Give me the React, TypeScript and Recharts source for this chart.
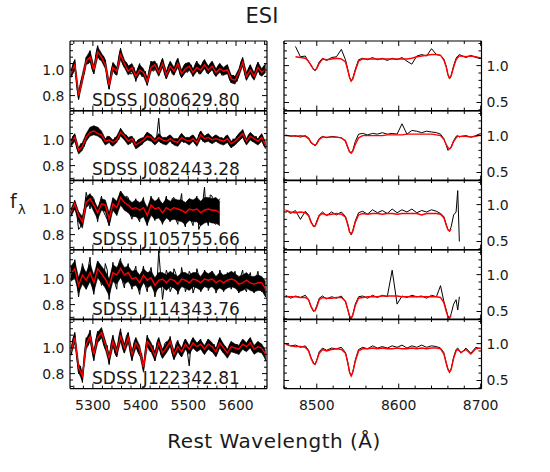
import React from 'react';
import { ComposedChart, Line, Area, XAxis, YAxis } from 'recharts';

// ---------- data ----------
// left column: observed spectra sampled every 4 A, model and scatter envelope every 8 A
const LEFT_WAVE_OBS = [
  5254, 5258, 5262, 5266, 5270, 5274, 5278, 5282, 5286, 5290,
  5294, 5298, 5302, 5306, 5310, 5314, 5318, 5322, 5326, 5330,
  5334, 5338, 5342, 5346, 5350, 5354, 5358, 5362, 5366, 5370,
  5374, 5378, 5382, 5386, 5390, 5394, 5398, 5402, 5406, 5410,
  5414, 5418, 5422, 5426, 5430, 5434, 5438, 5442, 5446, 5450,
  5454, 5458, 5462, 5466, 5470, 5474, 5478, 5482, 5486, 5490,
  5494, 5498, 5502, 5506, 5510, 5514, 5518, 5522, 5526, 5530,
  5534, 5538, 5542, 5546, 5550, 5554, 5558, 5562, 5566, 5570,
  5574, 5578, 5582, 5586, 5590, 5594, 5598, 5602, 5606, 5610,
  5614, 5618, 5622, 5626, 5630, 5634, 5638, 5642, 5646, 5650,
  5654, 5658, 5662,
];
const LEFT_WAVE_MOD = [
  5254, 5262, 5270, 5278, 5286, 5294, 5302, 5310, 5318, 5326,
  5334, 5342, 5350, 5358, 5366, 5374, 5382, 5390, 5398, 5406,
  5414, 5422, 5430, 5438, 5446, 5454, 5462, 5470, 5478, 5486,
  5494, 5502, 5510, 5518, 5526, 5534, 5542, 5550, 5558, 5566,
  5574, 5582, 5590, 5598, 5606, 5614, 5622, 5630, 5638, 5646,
  5654, 5662,
];

const RIGHT_WAVE = [
  8462, 8468, 8474, 8480, 8486, 8490, 8493, 8496, 8498, 8500,
  8503, 8507, 8512, 8518, 8524, 8530, 8535, 8538, 8540, 8542,
  8544, 8547, 8551, 8556, 8562, 8568, 8574, 8580, 8586, 8592,
  8598, 8604, 8610, 8616, 8622, 8628, 8634, 8640, 8646, 8651,
  8655, 8658, 8660, 8662, 8664, 8667, 8670, 8672, 8674, 8676,
  8682, 8688, 8694, 8700,
];

const NAMES = ['SDSS J080629.80', 'SDSS J082443.28', 'SDSS J105755.66', 'SDSS J114343.76', 'SDSS J122342.81'];

const L1_OBS = [
  0.95, 1.04, 1.08, 0.87, 0.77, 0.90, 0.95, 0.97, 1.10, 1.05,
  1.15, 1.01, 0.97, 1.12, 1.19, 1.08, 1.08, 1.11, 1.07, 0.92,
  0.85, 0.99, 1.05, 0.97, 0.96, 1.10, 1.17, 1.05, 1.02, 1.06,
  1.03, 0.97, 0.97, 1.02, 0.91, 1.01, 1.05, 0.95, 0.95, 0.99,
  0.88, 1.00, 1.07, 0.99, 1.00, 1.05, 0.96, 1.05, 1.09, 0.97,
  0.93, 1.03, 1.06, 0.97, 0.96, 1.06, 1.09, 0.97, 0.94, 1.03,
  1.05, 0.98, 1.00, 1.04, 0.95, 1.04, 1.07, 0.97, 0.97, 1.06,
  1.08, 0.98, 0.97, 1.05, 1.06, 0.97, 0.95, 1.03, 1.05, 0.96,
  0.96, 1.03, 1.04, 0.93, 0.90, 0.96, 0.94, 0.91, 0.96, 1.06,
  1.09, 0.97, 0.92, 1.01, 1.04, 0.94, 0.93, 1.02, 1.06, 0.96,
  0.96, 1.03, 1.04,
];
const L1_HI = [
  1.00, 1.08, 0.83, 0.97, 1.10, 1.15, 1.03, 1.18, 1.13, 1.08,
  0.91, 1.06, 1.02, 1.16, 1.08, 1.03, 1.05, 0.98, 1.04, 1.01,
  0.94, 1.06, 1.07, 1.01, 1.09, 0.99, 1.07, 1.02, 1.09, 1.00,
  1.05, 1.06, 1.01, 1.06, 1.03, 1.08, 1.03, 1.07, 1.01, 1.05,
  1.02, 1.04, 0.96, 0.95, 1.01, 1.10, 0.98, 1.04, 0.98, 1.06,
  1.01, 1.05,
];
const L1_LO = [
  0.94, 1.00, 0.77, 0.90, 1.04, 1.06, 0.97, 1.10, 1.07, 1.01,
  0.85, 0.99, 0.96, 1.08, 1.02, 0.96, 0.99, 0.92, 0.97, 0.95,
  0.88, 0.99, 1.01, 0.95, 1.02, 0.93, 1.00, 0.96, 1.02, 0.94,
  0.98, 1.00, 0.95, 0.99, 0.97, 1.01, 0.97, 1.00, 0.95, 0.98,
  0.96, 0.97, 0.90, 0.89, 0.95, 1.03, 0.92, 0.97, 0.92, 0.99,
  0.95, 0.98,
];
const L1_MOD = [
  0.97, 1.04, 0.80, 0.93, 1.07, 1.10, 1.00, 1.14, 1.10, 1.04,
  0.88, 1.02, 0.99, 1.12, 1.05, 0.99, 1.02, 0.95, 1.00, 0.98,
  0.91, 1.02, 1.04, 0.98, 1.05, 0.96, 1.03, 0.99, 1.05, 0.97,
  1.01, 1.03, 0.98, 1.02, 1.00, 1.04, 1.00, 1.03, 0.98, 1.01,
  0.99, 1.00, 0.93, 0.92, 0.98, 1.06, 0.95, 1.00, 0.95, 1.02,
  0.98, 1.01,
];
const L2_OBS = [
  0.96, 1.03, 1.04, 0.94, 0.90, 0.97, 0.97, 0.95, 1.04, 1.05,
  1.09, 1.07, 1.11, 1.08, 1.10, 1.06, 1.05, 0.99, 0.97, 1.03,
  1.02, 0.96, 0.96, 1.02, 1.02, 1.00, 1.09, 1.02, 1.01, 1.04,
  1.01, 0.97, 0.99, 1.01, 0.95, 1.00, 1.00, 0.96, 0.98, 1.04,
  1.06, 1.00, 1.04, 0.98, 0.97, 1.03, 1.17, 0.98, 1.00, 1.02,
  0.97, 1.03, 1.03, 0.97, 0.98, 1.01, 0.97, 1.03, 1.05, 0.98,
  0.99, 1.02, 0.98, 1.03, 1.03, 0.97, 0.97, 1.04, 1.07, 0.99,
  1.00, 1.04, 1.04, 0.98, 0.98, 1.03, 1.03, 0.98, 0.99, 1.02,
  0.98, 1.03, 1.03, 0.96, 0.94, 1.01, 0.98, 1.03, 1.04, 1.01,
  1.08, 0.99, 0.97, 1.04, 1.05, 0.99, 0.99, 1.03, 0.97, 1.03,
  1.04, 0.96, 0.94,
];
const L2_HI = [
  1.00, 1.05, 0.94, 0.98, 1.05, 1.10, 1.11, 1.10, 1.07, 1.01,
  1.03, 1.00, 1.03, 1.09, 1.05, 1.02, 1.03, 0.98, 1.01, 1.02,
  1.06, 1.04, 1.01, 1.05, 1.02, 1.02, 1.04, 1.01, 1.01, 1.05,
  1.02, 1.02, 1.04, 1.00, 1.07, 1.03, 1.05, 1.02, 1.04, 1.02,
  1.01, 1.04, 0.99, 1.01, 1.05, 1.08, 1.01, 1.06, 1.03, 1.01,
  1.05, 0.98,
];
const L2_LO = [
  0.95, 0.99, 0.89, 0.92, 0.99, 1.03, 1.04, 1.03, 1.01, 0.96,
  0.98, 0.95, 0.98, 1.03, 1.00, 0.96, 0.99, 0.93, 0.95, 0.98,
  1.00, 0.99, 0.96, 0.99, 0.97, 0.96, 0.99, 0.96, 0.95, 0.99,
  0.98, 0.96, 0.99, 0.95, 1.01, 0.98, 0.99, 0.97, 0.99, 0.97,
  0.96, 0.98, 0.94, 0.96, 0.99, 1.02, 0.96, 1.00, 0.98, 0.96,
  0.99, 0.93,
];
const L2_MOD = [
  0.98, 1.02, 0.92, 0.95, 1.02, 1.06, 1.07, 1.05, 1.04, 0.99,
  1.00, 0.98, 1.00, 1.06, 1.03, 0.99, 1.01, 0.96, 0.98, 1.00,
  1.03, 1.02, 0.99, 1.02, 1.00, 0.99, 1.01, 0.99, 0.98, 1.02,
  1.00, 0.99, 1.01, 0.98, 1.04, 1.01, 1.02, 1.00, 1.01, 1.00,
  0.99, 1.01, 0.97, 0.99, 1.02, 1.05, 0.99, 1.03, 1.01, 0.99,
  1.02, 0.96,
];
const L3_OBS = [
  0.97, 1.02, 1.05, 0.97, 0.84, 0.86, 0.93, 1.00, 1.13, 1.06,
  1.00, 1.10, 1.08, 0.99, 0.90, 1.04, 1.10, 0.98, 0.95, 0.92,
  0.87, 0.96, 1.08, 1.00, 0.95, 1.07, 1.14, 1.03, 1.00, 1.10,
  1.09, 0.96, 0.92, 1.04, 1.08, 0.93, 0.90, 1.05, 1.09, 0.92,
  0.87, 1.01, 1.10, 0.95, 0.91, 1.06, 1.09, 0.94, 0.88, 1.04,
  1.10, 0.93, 0.90, 1.08, 1.09, 0.92, 0.88, 1.03, 1.12, 0.90,
  0.86, 1.06, 1.08, 0.91, 0.87, 1.05, 1.10, 0.84, 0.88, 1.04,
  1.17, 0.93, 0.87, 1.11, 1.10, 0.89, 0.88, 1.06, 1.08,
];
const L3_HI = [
  1.00, 1.07, 0.98, 0.94, 1.09, 1.12, 1.07, 1.01, 1.08, 1.07,
  0.97, 1.09, 1.06, 1.14, 1.10, 1.08, 1.05, 1.07, 1.05, 1.07,
  1.01, 1.09, 1.06, 1.08, 1.04, 1.08, 1.06, 1.08, 1.07, 1.07,
  1.05, 1.08, 1.07, 1.09, 1.06, 1.09, 1.09, 1.08, 1.09, 1.06,
];
const L3_LO = [
  0.94, 1.00, 0.90, 0.85, 1.01, 1.04, 0.98, 0.92, 0.99, 0.98,
  0.87, 0.99, 0.95, 1.03, 0.99, 0.97, 0.94, 0.94, 0.92, 0.94,
  0.88, 0.95, 0.92, 0.93, 0.89, 0.93, 0.91, 0.92, 0.91, 0.90,
  0.88, 0.91, 0.90, 0.90, 0.87, 0.89, 0.90, 0.89, 0.89, 0.87,
];
const L3_MOD = [
  0.97, 1.04, 0.95, 0.90, 1.05, 1.08, 1.03, 0.97, 1.04, 1.03,
  0.92, 1.04, 1.01, 1.09, 1.05, 1.03, 1.00, 1.01, 0.99, 1.01,
  0.95, 1.03, 1.00, 1.01, 0.97, 1.01, 0.99, 1.01, 1.00, 0.99,
  0.97, 1.00, 0.99, 1.00, 0.97, 0.99, 1.00, 0.99, 0.99, 0.97,
];
const L4_OBS = [
  1.10, 1.02, 1.15, 1.00, 0.86, 0.98, 1.12, 1.06, 0.92, 1.08,
  1.17, 0.96, 0.88, 1.04, 1.14, 1.02, 0.95, 0.98, 1.12, 1.07,
  0.84, 0.99, 1.13, 0.97, 0.92, 1.12, 1.16, 0.98, 0.93, 1.06,
  1.12, 0.97, 0.92, 1.05, 1.10, 0.94, 0.88, 1.02, 1.10, 0.95,
  0.90, 1.04, 1.09, 0.98, 0.86, 0.93, 1.22, 1.03, 0.84, 0.96,
  1.07, 1.02, 0.90, 0.94, 1.08, 1.04, 0.88, 0.93, 1.09, 1.01,
  0.90, 0.95, 1.06, 1.03, 0.89, 0.94, 1.08, 1.02, 0.90, 0.93,
  1.07, 1.03, 0.91, 0.95, 1.06, 1.01, 0.89, 0.93, 1.07, 1.03,
  0.90, 0.95, 1.05, 0.99, 0.92, 1.03, 1.06, 0.94, 0.89, 1.02,
  1.07, 0.93, 0.90, 1.01, 1.05, 0.94, 0.89, 1.00, 1.06, 0.93,
  0.90, 0.98, 0.86,
];
const L4_HI = [
  1.10, 1.14, 1.01, 1.10, 1.05, 1.12, 1.03, 1.14, 1.10, 1.06,
  1.00, 1.11, 1.09, 1.14, 1.09, 1.10, 1.06, 1.07, 1.03, 1.08,
  1.05, 1.06, 1.01, 1.05, 1.05, 1.03, 1.06, 1.04, 1.02, 1.05,
  1.05, 1.03, 1.05, 1.05, 1.02, 1.06, 1.04, 1.06, 1.02, 1.05,
  1.03, 1.04, 1.06, 1.04, 1.02, 1.03, 1.05, 1.02, 1.02, 1.03,
  1.02, 0.98,
];
const L4_LO = [
  0.98, 1.01, 0.89, 0.96, 0.92, 0.98, 0.90, 1.01, 0.97, 0.93,
  0.87, 0.98, 0.96, 1.01, 0.96, 0.98, 0.94, 0.95, 0.91, 0.97,
  0.93, 0.95, 0.89, 0.93, 0.94, 0.91, 0.94, 0.93, 0.90, 0.94,
  0.93, 0.91, 0.94, 0.93, 0.91, 0.94, 0.93, 0.94, 0.91, 0.93,
  0.91, 0.93, 0.94, 0.93, 0.90, 0.91, 0.93, 0.91, 0.90, 0.91,
  0.91, 0.86,
];
const L4_MOD = [
  1.04, 1.08, 0.95, 1.03, 0.99, 1.05, 0.97, 1.08, 1.04, 1.00,
  0.94, 1.05, 1.03, 1.08, 1.03, 1.05, 1.00, 1.01, 0.97, 1.03,
  0.99, 1.01, 0.95, 0.99, 1.00, 0.97, 1.00, 0.99, 0.96, 1.00,
  0.99, 0.97, 1.00, 0.99, 0.97, 1.00, 0.99, 1.00, 0.97, 0.99,
  0.97, 0.99, 1.00, 0.99, 0.96, 0.97, 0.99, 0.97, 0.96, 0.97,
  0.97, 0.92,
];
const L5_OBS = [
  0.95, 1.07, 1.12, 0.93, 0.80, 0.86, 0.73, 0.95, 1.08, 1.02,
  1.14, 0.98, 0.90, 1.06, 1.13, 1.06, 1.15, 1.03, 0.99, 1.02,
  0.87, 1.03, 1.10, 0.96, 0.93, 1.08, 1.15, 1.00, 0.96, 1.09,
  1.12, 0.97, 0.90, 1.04, 1.08, 0.97, 0.94, 0.96, 0.82, 0.99,
  1.10, 0.98, 0.97, 1.02, 0.90, 1.04, 1.08, 0.95, 0.92, 1.03,
  1.05, 0.99, 1.09, 0.96, 0.91, 1.03, 1.06, 0.95, 0.93, 1.04,
  1.07, 0.97, 0.86, 1.05, 1.08, 0.99, 0.98, 1.05, 1.07, 0.97,
  0.95, 1.04, 1.07, 0.98, 0.97, 1.03, 0.94, 1.03, 1.08, 0.98,
  0.96, 1.01, 0.93, 1.02, 1.05, 0.97, 0.97, 1.03, 0.95, 1.04,
  1.06, 0.98, 0.98, 1.06, 1.08, 0.98, 0.96, 1.03, 1.05, 0.97,
  0.97, 1.00, 0.90,
];
const L5_HI = [
  1.00, 1.12, 0.88, 0.81, 1.07, 1.13, 0.98, 1.12, 1.16, 1.06,
  0.95, 1.09, 1.00, 1.13, 1.03, 1.12, 0.98, 1.08, 1.02, 0.88,
  1.09, 1.04, 0.97, 1.08, 0.99, 1.04, 1.08, 0.98, 1.05, 1.00,
  1.07, 1.02, 1.08, 1.04, 1.06, 1.02, 1.07, 1.04, 1.00, 1.08,
  1.03, 0.99, 1.05, 1.03, 1.02, 1.07, 1.04, 1.08, 1.02, 1.05,
  1.03, 0.98,
];
const L5_LO = [
  0.94, 1.04, 0.81, 0.74, 0.99, 1.05, 0.91, 1.04, 1.08, 0.99,
  0.88, 1.01, 0.93, 1.05, 0.96, 1.04, 0.91, 1.00, 0.95, 0.81,
  1.01, 0.97, 0.90, 1.00, 0.92, 0.96, 1.01, 0.91, 0.97, 0.93,
  0.99, 0.95, 1.00, 0.97, 0.99, 0.95, 0.99, 0.97, 0.93, 1.00,
  0.96, 0.92, 0.97, 0.96, 0.95, 0.99, 0.97, 1.00, 0.95, 0.97,
  0.96, 0.91,
];
const L5_MOD = [
  0.97, 1.08, 0.85, 0.78, 1.03, 1.09, 0.95, 1.08, 1.12, 1.03,
  0.92, 1.05, 0.97, 1.09, 1.00, 1.08, 0.95, 1.04, 0.99, 0.85,
  1.05, 1.01, 0.94, 1.04, 0.96, 1.00, 1.05, 0.95, 1.01, 0.97,
  1.03, 0.99, 1.04, 1.01, 1.03, 0.99, 1.03, 1.01, 0.97, 1.04,
  1.00, 0.96, 1.01, 1.00, 0.99, 1.03, 1.01, 1.04, 0.99, 1.01,
  1.00, 0.95,
];

// right column (Ca triplet region)
const R1_OBS = [
  null, null, 1.26, 1.12, 1.13, 1.05, 1.01, 0.95, 0.93, 0.97,
  1.05, 1.10, 1.07, 1.11, 1.12, 1.22, 1.08, 0.94, 0.84, 0.79,
  0.83, 0.95, 1.08, 1.10, 1.08, 1.11, 1.08, 1.10, 1.07, 1.10,
  1.08, 1.11, 1.06, 1.02, 1.13, 1.15, 1.13, 1.23, 1.15, 1.14,
  1.09, 0.99, 0.88, 0.82, 0.87, 1.00, 1.10, 1.13, 1.15, 1.14,
  1.11, 1.14, 1.11, 1.10,
];
const R1_MOD = [
  null, null, 1.12, 1.11, 1.10, 1.06, 1.00, 0.95, 0.94, 0.96,
  1.03, 1.09, 1.08, 1.09, 1.10, 1.09, 1.05, 0.93, 0.84, 0.79,
  0.82, 0.93, 1.06, 1.09, 1.09, 1.09, 1.09, 1.09, 1.09, 1.09,
  1.09, 1.09, 1.09, 1.10, 1.12, 1.13, 1.14, 1.15, 1.15, 1.14,
  1.08, 0.98, 0.88, 0.83, 0.86, 0.98, 1.08, 1.11, 1.13, 1.13,
  1.12, 1.13, 1.12, 1.10,
];
const R2_OBS = [
  1.01, 0.99, 1.00, 0.98, 1.00, 0.97, 0.90, 0.88, 0.86, 0.90,
  0.96, 0.99, 0.97, 0.99, 0.98, 0.97, 0.92, 0.83, 0.78, 0.77,
  0.80, 0.92, 1.02, 1.03, 1.01, 1.03, 1.02, 1.04, 1.02, 1.03,
  1.02, 1.16, 1.02, 1.07, 1.06, 1.04, 1.06, 1.05, 1.04, 1.02,
  0.96, 0.87, 0.80, 0.82, 0.85, 0.93, 0.99, 1.00, 0.98, 0.99,
  1.00, 0.98, 1.00, 1.03,
];
const R2_MOD = [
  1.00, 1.00, 0.99, 1.00, 0.99, 0.96, 0.91, 0.88, 0.87, 0.89,
  0.95, 0.98, 0.98, 0.98, 0.98, 0.97, 0.93, 0.84, 0.78, 0.76,
  0.79, 0.88, 0.97, 1.00, 1.00, 1.00, 1.00, 1.00, 1.01, 1.01,
  1.01, 1.01, 1.02, 1.02, 1.02, 1.02, 1.02, 1.02, 1.01, 1.00,
  0.95, 0.88, 0.84, 0.82, 0.84, 0.92, 0.97, 0.99, 0.99, 0.99,
  0.99, 0.98, 0.99, 1.01,
];
const R3_OBS = [
  0.93, 0.88, 0.92, 0.80, 0.91, 0.86, 0.77, 0.70, 0.71, 0.78,
  0.86, 0.90, 0.85, 0.90, 0.86, 0.90, 0.84, 0.73, 0.63, 0.59,
  0.65, 0.78, 0.89, 0.91, 0.87, 0.93, 0.89, 0.92, 0.88, 0.94,
  0.89, 0.93, 0.90, 0.94, 0.89, 0.92, 0.90, 0.93, 0.91, 0.88,
  0.84, 0.73, 0.66, 0.64, 0.70, 0.86, 0.90, 1.19, 0.50,
];
const R3_MOD = [
  0.92, 0.90, 0.89, 0.90, 0.89, 0.85, 0.76, 0.71, 0.71, 0.76,
  0.85, 0.88, 0.86, 0.87, 0.88, 0.87, 0.83, 0.72, 0.63, 0.60,
  0.64, 0.76, 0.86, 0.88, 0.87, 0.88, 0.88, 0.87, 0.88, 0.88,
  0.87, 0.88, 0.88, 0.88, 0.88, 0.86, 0.88, 0.88, 0.88, 0.87,
  0.82, 0.72, 0.66, 0.64, 0.67,
];
const R4_OBS = [
  0.72, 0.68, 0.71, 0.69, 0.72, 0.66, 0.56, 0.50, 0.52, 0.58,
  0.68, 0.71, 0.67, 0.70, 0.68, 0.71, 0.63, 0.52, 0.43, 0.40,
  0.46, 0.60, 0.70, 0.71, 0.68, 0.72, 0.69, 0.72, 0.70, 1.06,
  0.60, 0.71, 0.69, 0.72, 0.70, 0.71, 0.68, 0.72, 0.70, 0.85,
  0.64, 0.52, 0.44, 0.41, 0.47, 0.60, 0.66, 0.52, 0.70,
];
const R4_MOD = [
  0.70, 0.70, 0.70, 0.69, 0.69, 0.66, 0.57, 0.51, 0.51, 0.56,
  0.66, 0.69, 0.68, 0.68, 0.69, 0.69, 0.64, 0.52, 0.44, 0.41,
  0.45, 0.58, 0.68, 0.69, 0.70, 0.70, 0.70, 0.71, 0.71, 0.71,
  0.71, 0.70, 0.70, 0.70, 0.70, 0.70, 0.70, 0.70, 0.70, 0.69,
  0.62, 0.50, 0.43, 0.41, 0.45,
];
const R5_OBS = [
  1.00, 0.97, 0.98, 0.95, 0.97, 0.91, 0.81, 0.74, 0.72, 0.78,
  0.89, 0.94, 0.91, 0.94, 0.93, 0.95, 0.88, 0.74, 0.61, 0.56,
  0.62, 0.78, 0.92, 0.95, 0.93, 0.97, 0.94, 0.96, 0.94, 0.97,
  0.95, 0.98, 0.94, 0.97, 0.95, 0.98, 0.95, 0.97, 0.96, 0.94,
  0.88, 0.74, 0.66, 0.62, 0.66, 0.82, 0.92, 0.94, 0.91, 0.87,
  0.94, 0.87, 0.95, 0.93,
];
const R5_MOD = [
  0.99, 0.97, 0.96, 0.96, 0.95, 0.90, 0.80, 0.73, 0.72, 0.77,
  0.87, 0.92, 0.90, 0.92, 0.93, 0.92, 0.87, 0.73, 0.61, 0.56,
  0.61, 0.76, 0.90, 0.93, 0.93, 0.94, 0.93, 0.94, 0.93, 0.93,
  0.94, 0.93, 0.93, 0.94, 0.93, 0.94, 0.93, 0.94, 0.94, 0.93,
  0.86, 0.73, 0.65, 0.61, 0.65, 0.80, 0.90, 0.92, 0.90, 0.88,
  0.92, 0.86, 0.93, 0.94,
];

// ticks
const LEFT_X_TICKS = [5260, 5280, 5300, 5320, 5340, 5360, 5380, 5400, 5420, 5440, 5460, 5480, 5500, 5520, 5540, 5560, 5580, 5600, 5620, 5640, 5660];
const LEFT_X_MAJOR = [5300, 5400, 5500, 5600];
const RIGHT_X_TICKS = [8460, 8480, 8500, 8520, 8540, 8560, 8580, 8600, 8620, 8640, 8660, 8680, 8700];
const RIGHT_X_MAJOR = [8500, 8600, 8700];
const LEFT_Y_TICKS = [0.7, 0.75, 0.8, 0.85, 0.9, 0.95, 1.0, 1.05, 1.1, 1.15, 1.2];
const LEFT_Y_MAJOR = [0.8, 1.0];
const RIGHT_Y_TICKS = [0.4, 0.5, 0.6, 0.7, 0.8, 0.9, 1.0, 1.1, 1.2, 1.3];
const RIGHT_Y_MAJOR = [0.5, 1.0];

const LEFT_X_DOMAIN: [number, number] = [5252, 5665];
const RIGHT_X_DOMAIN: [number, number] = [8460, 8701];
const LEFT_Y_DOMAIN: [number, number] = [0.683, 1.226];
const RIGHT_Y_DOMAIN: [number, number] = [0.39, 1.334];

type Arr = (number | null)[];
interface LeftSet { obs: Arr; hi: Arr; lo: Arr; mod: Arr }
const LEFT_SETS: LeftSet[] = [
  { obs: L1_OBS, hi: L1_HI, lo: L1_LO, mod: L1_MOD },
  { obs: L2_OBS, hi: L2_HI, lo: L2_LO, mod: L2_MOD },
  { obs: L3_OBS, hi: L3_HI, lo: L3_LO, mod: L3_MOD },
  { obs: L4_OBS, hi: L4_HI, lo: L4_LO, mod: L4_MOD },
  { obs: L5_OBS, hi: L5_HI, lo: L5_LO, mod: L5_MOD },
];
const RIGHT_SETS: [Arr, Arr][] = [
  [R1_OBS, R1_MOD], [R2_OBS, R2_MOD], [R3_OBS, R3_MOD], [R4_OBS, R4_MOD], [R5_OBS, R5_MOD],
];

// ---------- layout ----------
const FONT = '"DejaVu Sans", "Liberation Sans", sans-serif';
const TEXT_COLOR = '#1a1a1a';
const ROW_TOP = 41;
const ROW_H = 69.6;
const LEFT_X0 = 70;
const LEFT_W = 197;
const RIGHT_X0 = 284.3;
const RIGHT_W = 197.5;
const LABEL_W = 40;
const M = 4;
const XLAB_H = 30;

const build = (wave: number[], vals: Arr) =>
  wave.filter((_, i) => i < vals.length).map((w, i) => ({ w, v: vals[i] ?? null }));
const buildBand = (wave: number[], lo: Arr, hi: Arr) =>
  wave.filter((_, i) => i < lo.length).map((w, i) => ({ w, band: [lo[i], hi[i]] }));

const isMajor = (majors: number[], v: number) => majors.some((m) => Math.abs(m - v) < 1e-6);

type Side = 'bottom' | 'top' | 'left' | 'right';
const makeTick = (side: Side, majors: number[], showLabel: boolean, fmt: (v: number) => string) =>
  (props: any) => {
    const { x, y, payload } = props;
    const v = Number(payload.value);
    const major = isMajor(majors, v);
    const len = major ? 5 : 3;
    let line: React.ReactNode = null;
    let text: React.ReactNode = null;
    const ts = { fontFamily: FONT, fontSize: 14, fill: TEXT_COLOR } as const;
    if (side === 'bottom') {
      line = <line x1={x} x2={x} y1={y} y2={y - len} stroke="#000" strokeWidth={1} />;
      if (showLabel && major) text = <text x={x} y={y + 21} textAnchor="middle" {...ts}>{fmt(v)}</text>;
    } else if (side === 'top') {
      line = <line x1={x} x2={x} y1={y} y2={y + len} stroke="#000" strokeWidth={1} />;
    } else if (side === 'left') {
      line = <line x1={x} x2={x + len} y1={y} y2={y} stroke="#000" strokeWidth={1} />;
      if (showLabel && major) text = <text x={x - 5.5} y={y + 5} textAnchor="end" {...ts}>{fmt(v)}</text>;
    } else {
      line = <line x1={x} x2={x - len} y1={y} y2={y} stroke="#000" strokeWidth={1} />;
      if (showLabel && major) text = <text x={x + 5} y={y + 5} textAnchor="start" {...ts}>{fmt(v)}</text>;
    }
    return <g>{line}{text}</g>;
  };

interface PanelProps {
  column: 'left' | 'right';
  row: number;
}

function Panel({ column, row }: PanelProps) {
  const isLeft = column === 'left';
  const showX = row === 4;
  const plotX = isLeft ? LEFT_X0 : RIGHT_X0;
  const plotW = isLeft ? LEFT_W : RIGHT_W;
  const plotY = ROW_TOP + row * ROW_H;

  let obsData: { w: number; v: number | null }[];
  let modData: { w: number; v: number | null }[];
  let bandData: { w: number; band: (number | null)[] }[] | null = null;
  if (isLeft) {
    const s = LEFT_SETS[row];
    obsData = build(LEFT_WAVE_OBS, s.obs);
    modData = build(LEFT_WAVE_MOD, s.mod);
    bandData = buildBand(LEFT_WAVE_MOD, s.lo, s.hi);
  } else {
    const [o, m] = RIGHT_SETS[row];
    obsData = build(RIGHT_WAVE, o);
    modData = build(RIGHT_WAVE, m);
  }

  const xDomain = isLeft ? LEFT_X_DOMAIN : RIGHT_X_DOMAIN;
  const yDomain = isLeft ? LEFT_Y_DOMAIN : RIGHT_Y_DOMAIN;
  const xTicks = isLeft ? LEFT_X_TICKS : RIGHT_X_TICKS;
  const xMajor = isLeft ? LEFT_X_MAJOR : RIGHT_X_MAJOR;
  const yTicks = isLeft ? LEFT_Y_TICKS : RIGHT_Y_TICKS;
  const yMajor = isLeft ? LEFT_Y_MAJOR : RIGHT_Y_MAJOR;

  const width = (isLeft ? LABEL_W : M) + plotW + (isLeft ? M : LABEL_W);
  const height = M + ROW_H + (showX ? XLAB_H : M);
  const left = plotX - (isLeft ? LABEL_W : M);
  const top = plotY - M;
  const fmtY = (v: number) => v.toFixed(1);
  const fmtX = (v: number) => String(v);
  const axisLine = { stroke: '#000', strokeWidth: 1.2 };

  return (
    <div style={{ position: 'absolute', left, top, width, height }}>
      <ComposedChart
        width={width}
        height={height}
        margin={{
          top: M - 1,
          right: isLeft ? M - 1 : 0,
          bottom: showX ? 0 : M - 1,
          left: isLeft ? 0 : M - 1,
        }}
      >
        <XAxis
          xAxisId="b"
          dataKey="w"
          type="number"
          orientation="bottom"
          domain={xDomain}
          allowDataOverflow
          ticks={xTicks}
          interval={0}
          height={showX ? XLAB_H : 1}
          tickLine={false}
          tickSize={0}
          tickMargin={0}
          axisLine={axisLine}
          tick={makeTick('bottom', xMajor, showX, fmtX)}
        />
        <XAxis
          xAxisId="t"
          dataKey="w"
          type="number"
          orientation="top"
          domain={xDomain}
          allowDataOverflow
          ticks={xTicks}
          interval={0}
          height={1}
          tickLine={false}
          tickSize={0}
          tickMargin={0}
          axisLine={axisLine}
          tick={makeTick('top', xMajor, false, fmtX)}
        />
        <YAxis
          yAxisId="l"
          type="number"
          orientation="left"
          domain={yDomain}
          allowDataOverflow
          ticks={yTicks}
          interval={0}
          width={isLeft ? LABEL_W : 1}
          tickLine={false}
          tickSize={0}
          tickMargin={0}
          axisLine={axisLine}
          tick={makeTick('left', yMajor, isLeft, fmtY)}
        />
        <YAxis
          yAxisId="r"
          type="number"
          orientation="right"
          domain={yDomain}
          allowDataOverflow
          ticks={yTicks}
          interval={0}
          width={isLeft ? 1 : LABEL_W}
          tickLine={false}
          tickSize={0}
          tickMargin={0}
          axisLine={axisLine}
          tick={makeTick('right', yMajor, !isLeft, fmtY)}
        />
        {bandData && (
          <Area
            data={bandData}
            xAxisId="b"
            yAxisId="l"
            dataKey="band"
            name="observed scatter"
            type="linear"
            stroke="#000000"
            strokeWidth={0.6}
            fill="#000000"
            fillOpacity={1}
            dot={false}
            activeDot={false}
            isAnimationActive={false}
          />
        )}
        <Line
          data={obsData}
          xAxisId="b"
          yAxisId="l"
          dataKey="v"
          name="observed"
          stroke="#000000"
          strokeWidth={1}
          dot={false}
          isAnimationActive={false}
          connectNulls={false}
        />
        <Line
          data={modData}
          xAxisId="b"
          yAxisId="l"
          dataKey="v"
          name="model"
          stroke="#ff0000"
          strokeWidth={1.4}
          dot={false}
          isAnimationActive={false}
          connectNulls={false}
        />
      </ComposedChart>
    </div>
  );
}

export default function App() {
  const rows = [0, 1, 2, 3, 4];
  return (
    <div style={{ position: 'absolute', left: 0, top: 0, width: 550, height: 472, background: '#fff' }}>
      {rows.map((r) => (
        <Panel key={'l' + r} column="left" row={r} />
      ))}
      {rows.map((r) => (
        <Panel key={'r' + r} column="right" row={r} />
      ))}
      <svg
        width={550}
        height={472}
        style={{ position: 'absolute', left: 0, top: 0, pointerEvents: 'none' }}
      >
        <text x={262} y={23} textAnchor="middle" fontFamily={FONT} fontSize={21} fill={TEXT_COLOR}>
          ESI
        </text>
        {NAMES.map((n, i) => (
          <text
            key={n}
            x={92}
            y={ROW_TOP + i * ROW_H + 64.7}
            fontFamily={FONT}
            fontSize={17}
            fill={TEXT_COLOR}
          >
            {n}
          </text>
        ))}
        <text x={10} y={208} fontFamily={FONT} fontSize={19} fill={TEXT_COLOR}>
          f
        </text>
        <text x={18} y={214} fontFamily={FONT} fontSize={13} fill={TEXT_COLOR}>
          λ
        </text>
        <text
          x={274}
          y={448}
          textAnchor="middle"
          fontFamily={FONT}
          fontSize={20}
          letterSpacing={0.5}
          fill={TEXT_COLOR}
        >
          Rest Wavelength (Å)
        </text>
      </svg>
    </div>
  );
}
